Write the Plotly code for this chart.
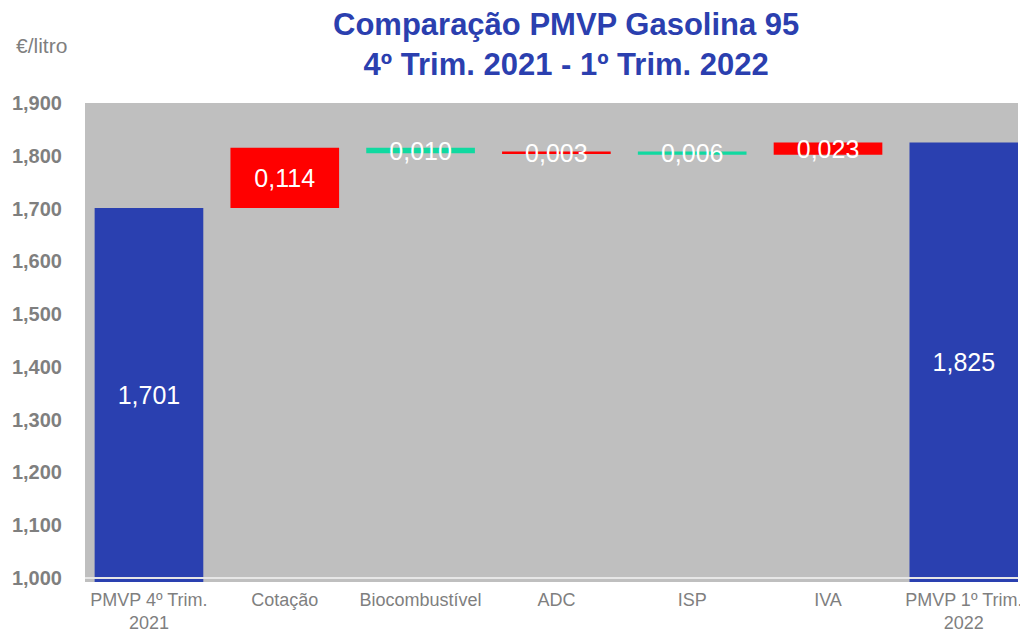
import plotly.graph_objects as go

categories = ["PMVP 4º Trim.<br>2021", "Cotação", "Biocombustível", "ADC", "ISP", "IVA", "PMVP 1º Trim.<br>2022"]
values = [1.701, 0.114, -0.010, 0.003, -0.006, 0.023, 1.825]
measures = ["absolute", "relative", "relative", "relative", "relative", "relative", "total"]
labels = ["1,701", "0,114", "0,010", "0,003", "0,006", "0,023", "1,825"]
tick_vals = [1.0, 1.1, 1.2, 1.3, 1.4, 1.5, 1.6, 1.7, 1.8, 1.9]
tick_text = ["1,000", "1,100", "1,200", "1,300", "1,400", "1,500", "1,600", "1,700", "1,800", "1,900"]
y_min, y_max = 0.9924, 1.9

BLUE = "#2A40B0"
RED = "#FF0000"
GREEN = "#10D9A0"
FONT = "Liberation Sans, Arial, sans-serif"

# bars drawn from the bottom of the visible axis so labels sit in the visible part of the totals
base = y_min
plot_values = [v - base if m == "absolute" else v for v, m in zip(values, measures)]

fig = go.Figure(go.Waterfall(
    x=categories,
    y=plot_values,
    base=base,
    measure=measures,
    text=labels,
    textposition="inside",
    insidetextanchor="middle",
    textfont=dict(family=FONT, size=25, color="white"),
    increasing=dict(marker=dict(color=RED)),
    decreasing=dict(marker=dict(color=GREEN)),
    totals=dict(marker=dict(color=BLUE)),
    connector=dict(visible=False),
    hoverinfo="skip",
))

fig.update_layout(
    width=1020, height=622,
    margin=dict(l=77, r=10, t=95, b=48),
    paper_bgcolor="white",
    plot_bgcolor="#BFBFBF",
    showlegend=False,
    bargap=0.22,
    uniformtext=dict(minsize=25, mode="show"),
    font=dict(family=FONT),
    shapes=[dict(
        type="line", xref="paper", yref="y", x0=0, x1=1, y0=1.0, y1=1.0,
        line=dict(color="#E6E6E6", width=2), layer="above",
    )],
    annotations=[
        dict(
            text="<b>Comparação PMVP Gasolina 95<br>4º Trim. 2021 - 1º Trim. 2022</b>",
            xref="paper", yref="paper", x=0.5155, y=1.123,
            xanchor="center", yanchor="middle", showarrow=False,
            font=dict(size=31, color="#2B3FAF", family=FONT),
        ),
        dict(
            text="€/litro", xref="paper", yref="paper", x=-0.047, y=1.121,
            xanchor="center", yanchor="middle", showarrow=False,
            font=dict(size=21, color="#7F7F7F", family=FONT),
        ),
    ],
)

fig.update_xaxes(
    range=[-0.471, 6.399],
    tickfont=dict(size=18, color="#7F7F7F", family=FONT),
    showgrid=False, showline=False,
    ticks="", automargin=False, ticklabelstandoff=5,
)
fig.update_yaxes(
    range=[y_min, y_max], tickvals=tick_vals, ticktext=tick_text,
    tickfont=dict(size=20, color="#7F7F7F", family=FONT, weight="bold"),
    showgrid=False, zeroline=False, ticklabelstandoff=22, automargin=False,
)

fig.write_html("out.html")
